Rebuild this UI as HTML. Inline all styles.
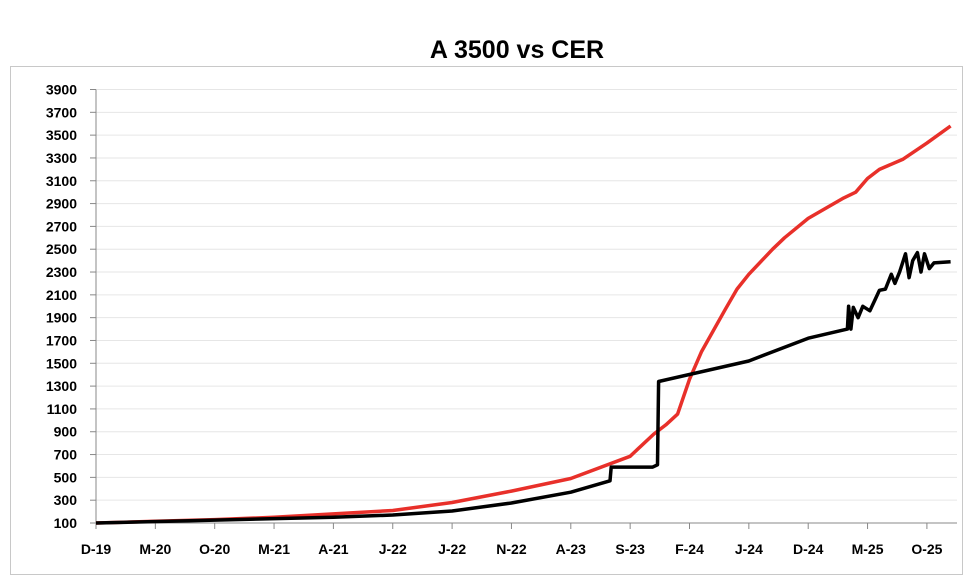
<!DOCTYPE html>
<html><head><meta charset="utf-8"><style>
body{margin:0;background:#fff;}
svg{display:block;font-family:"Liberation Sans",sans-serif;}
</style></head><body>
<svg id="chart" width="980" height="584">
<text x="517" y="58" text-anchor="middle" font-size="25" font-weight="bold">A 3500 vs CER</text>
<rect x="10.5" y="66.5" width="952" height="508" fill="none" stroke="#c8c8c8"/>
<g id="grid"></g><g id="axes"></g><g id="series"></g>
</svg>
<script>
const yTicks=[100,300,500,700,900,1100,1300,1500,1700,1900,2100,2300,2500,2700,2900,3100,3300,3500,3700,3900];
const xLabels=["D-19","M-20","O-20","M-21","A-21","J-22","J-22","N-22","A-23","S-23","F-24","J-24","D-24","M-25","O-25"];
const xLabelMonths=[0,5,10,15,20,25,30,35,40,45,50,55,60,65,70];
const cerMonths=[0,5,10,15,20,25,30,35,40,45,47,48,49,50,51,53,54,55,57,58,60,63,64,65,66,68,70,72];
const cerValues=[100,115,130,150,180,210,280,380,490,685,880,960,1055,1360,1600,1970,2150,2280,2500,2600,2770,2950,3000,3120,3200,3290,3430,3580];
const a3500Months=[0,10,20,25,30,35,40,43.3,43.4,46.9,47.3,47.4,55,60,63.3,63.4,63.6,63.8,64.2,64.6,65.2,65.6,66,66.5,67,67.3,67.7,68.2,68.5,68.8,69.2,69.5,69.8,70.2,70.6,72];
const a3500Values=[100,125,150,170,205,275,370,470,590,590,610,1340,1520,1720,1800,2000,1800,1990,1900,2000,1960,2050,2140,2150,2280,2200,2300,2460,2250,2400,2470,2300,2460,2330,2380,2390];
const X0=96,PX=11.87,Y0=523,Y1=89.5,VMIN=100,VMAX=3900;
const x=t=>X0+t*PX;
const y=v=>Y0-(v-VMIN)*(Y0-Y1)/(VMAX-VMIN);
const NS="http://www.w3.org/2000/svg";
const mk=(p,tag,a)=>{const e=document.createElementNS(NS,tag);for(const k in a)e.setAttribute(k,a[k]);p.appendChild(e);return e;};
const grid=document.getElementById('grid'),axes=document.getElementById('axes'),ser=document.getElementById('series');
yTicks.forEach(v=>{
 const g=mk(grid,'line',{x1:X0,x2:957,y1:y(v),y2:y(v),stroke:'#e6e6e6','stroke-width':1});
 
 
 const tk=mk(axes,'line',{x1:X0-6,x2:X0,y1:y(v),y2:y(v),stroke:'#888'});
 
 
 const t=mk(axes,'text',{x:77,y:y(v)+5,'text-anchor':'end','font-size':14,'font-weight':'bold'});
 t.textContent=v;
 
 
});
const ya=mk(axes,'line',{x1:X0,x2:X0,y1:Y1,y2:Y0,stroke:'#888'});


const xa=mk(axes,'line',{x1:X0,x2:957,y1:Y0,y2:Y0,stroke:'#888'});


xLabels.forEach((l,i)=>{
 const xx=x(xLabelMonths[i]);
 const tk=mk(axes,'line',{x1:xx,x2:xx,y1:Y0,y2:Y0+6,stroke:'#888'});
 
 
 const t=mk(axes,'text',{x:xx,y:554,'text-anchor':'middle','font-size':14,'font-weight':'bold'});
 t.textContent=l;
 
 
});
const path=(ms,vs)=>ms.map((m,i)=>(i?'L':'M')+x(m).toFixed(1)+','+y(vs[i]).toFixed(1)).join('');
const cer=mk(ser,'path',{d:path(cerMonths,cerValues),fill:'none',stroke:'#e8302a','stroke-width':3.5,'stroke-linejoin':'round'});


const a=mk(ser,'path',{d:path(a3500Months,a3500Values),fill:'none',stroke:'#000','stroke-width':3.5,'stroke-linejoin':'round'});


</script>
</body></html>
